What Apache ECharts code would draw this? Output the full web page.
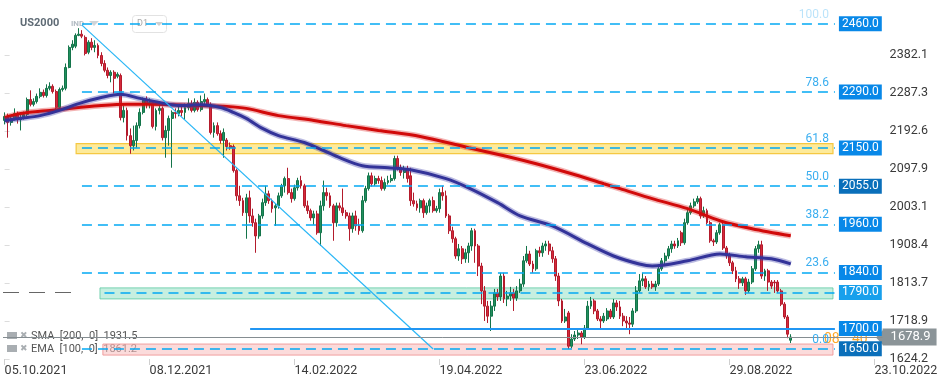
<!DOCTYPE html>
<html><head><meta charset="utf-8">
<script src="https://cdn.jsdelivr.net/npm/echarts@6/dist/echarts.min.js"></script>
<style>html,body{margin:0;padding:0;background:#fff;overflow:hidden}#c{width:949px;height:384px}</style>
</head><body><div id="c"></div>
<script>
// ---------- DATA ----------
const dateTicks = ['05.10.2021','08.12.2021','14.02.2022','19.04.2022','23.06.2022','29.08.2022','23.10.2022'];
const barsPerTick = 45;
const totalSlots = 273;
const yTicks = [1624.2, 1718.9, 1813.7, 1908.4, 2003.1, 2097.9, 2192.6, 2287.3, 2382.1];
const yMin = 1624.2, yMax = 2519.2;

// [open, close, low, high]
const candles = [
[2219,2229,2209,2239],[2229,2214,2176,2236],[2214,2224,2206,2231],[2224,2236,2219,2249],[2236,2221,2211,2241],
[2221,2226,2194,2234],[2226,2234,2221,2241],[2234,2271,2229,2276],[2271,2259,2254,2294],[2259,2266,2254,2274],
[2266,2279,2261,2286],[2279,2289,2274,2299],[2289,2281,2276,2296],[2281,2299,2276,2309],[2299,2304,2294,2314],
[2304,2291,2286,2309],[2291,2251,2246,2296],[2251,2296,2249,2301],[2296,2299,2291,2306],[2299,2351,2294,2361],
[2351,2401,2349,2406],[2401,2409,2394,2419],[2404,2431,2399,2436],[2431,2434,2429,2449],[2434,2429,2424,2444],
[2426,2386,2381,2431],[2389,2414,2384,2419],[2414,2401,2394,2424],[2401,2406,2389,2419],[2406,2381,2374,2411],
[2381,2361,2354,2389],[2361,2344,2339,2369],[2344,2331,2324,2351],[2331,2339,2314,2344],[2339,2324,2286,2344],
[2329,2334,2324,2339],[2331,2226,2219,2336],[2226,2244,2214,2256],[2244,2181,2169,2251],[2181,2156,2136,2199],
[2156,2169,2144,2206],[2169,2206,2151,2214],[2206,2239,2199,2249],[2239,2269,2234,2276],[2269,2259,2249,2279],
[2259,2264,2249,2274],[2264,2204,2199,2269],[2204,2244,2194,2249],[2244,2249,2234,2259],[2249,2176,2169,2254],
[2176,2194,2126,2206],[2194,2224,2156,2231],[2224,2239,2101,2244],[2239,2236,2224,2249],[2236,2244,2229,2256],
[2244,2239,2229,2254],[2239,2251,2221,2261],[2251,2261,2244,2274],[2261,2244,2239,2269],[2244,2264,2239,2274],
[2264,2246,2241,2269],[2246,2266,2241,2281],[2266,2271,2259,2286],[2271,2259,2254,2276],[2259,2189,2184,2264],
[2189,2206,2176,2214],[2206,2186,2181,2214],[2186,2169,2161,2194],[2169,2189,2126,2199],[2170,2154,2144,2175],
[2156,2151,2146,2164],[2154,2094,2089,2159],[2094,2031,2019,2099],[2031,2019,2006,2056],[2019,1989,1981,2026],
[1989,2026,1924,2036],[2026,1981,1964,2044],[1981,1964,1954,1999],[1964,1931,1889,1974],[1931,1981,1924,1986],
[1981,2014,1974,2024],[2014,2036,2006,2056],[2036,2019,2011,2044],[2019,1999,1989,2024],[2001,2006,1956,2011],
[2006,2031,1999,2039],[2031,2056,2026,2061],[2056,2074,2039,2079],[2074,2039,2034,2101],[2039,2024,2014,2049],
[2024,2051,2019,2059],[2051,2069,2044,2076],[2069,2056,2049,2081],[2056,2006,2001,2061],[2006,1994,1986,2019],
[1994,1976,1969,1999],[1976,1986,1959,1994],[1986,1939,1934,1994],[1939,2006,1906,2019],[2006,2039,1994,2069],
[2039,2031,2019,2051],[2031,2006,2001,2039],[2006,1964,1919,2011],[1964,2006,1954,2014],[2006,2001,1994,2014],
[2001,1989,1981,2049],[1989,1981,1974,1996],[1981,1949,1919,1989],[1949,1981,1939,1989],[1981,1956,1944,1994],
[1956,1944,1934,1974],[1944,2019,1939,2031],[2019,2049,2014,2056],[2049,2081,2044,2089],[2081,2061,2054,2089],
[2061,2074,2056,2081],[2074,2069,2061,2081],[2069,2049,2044,2079],[2049,2064,2044,2074],[2064,2069,2059,2081],
[2069,2074,2064,2084],[2074,2124,2069,2131],[2124,2101,2094,2131],[2101,2089,2081,2109],[2089,2099,2074,2106],
[2099,2074,2064,2106],[2081,2019,2006,2101],[2019,2011,2004,2039],[2011,2001,1994,2019],[2001,2019,1989,2024],
[2019,1989,1976,2024],[1989,2006,1984,2014],[2006,2019,1989,2024],[2019,1994,1989,2029],[1994,1999,1989,2006],
[1999,2039,1989,2049],[2039,2031,2019,2056],[2031,1981,1976,2044],[1981,1944,1936,1986],[1944,1924,1914,1954],
[1924,1881,1874,1929],[1881,1899,1869,1911],[1899,1874,1861,1906],[1874,1889,1864,1899],[1889,1906,1864,1914],
[1906,1944,1894,1951],[1944,1906,1864,1949],[1906,1856,1831,1911],[1856,1794,1761,1864],[1794,1756,1719,1806],
[1756,1731,1714,1769],[1731,1756,1694,1769],[1756,1789,1744,1799],[1789,1779,1769,1799],[1779,1831,1769,1839],
[1831,1774,1764,1839],[1774,1781,1756,1794],[1781,1789,1769,1804],[1789,1776,1744,1799],[1776,1794,1769,1806],
[1794,1811,1789,1824],[1811,1869,1804,1881],[1869,1886,1864,1906],[1886,1861,1856,1894],[1861,1849,1839,1869],
[1849,1894,1844,1899],[1894,1889,1879,1904],[1889,1906,1879,1914],[1906,1911,1894,1919],[1911,1894,1884,1919],
[1894,1874,1864,1904],[1874,1831,1819,1881],[1831,1769,1756,1839],[1769,1719,1714,1774],[1719,1729,1714,1749],
[1739,1656,1649,1744],[1656,1674,1651,1686],[1674,1684,1669,1694],[1684,1689,1674,1699],[1689,1679,1661,1694],
[1679,1701,1674,1709],[1701,1756,1699,1769],[1756,1769,1749,1779],[1769,1744,1736,1774],[1744,1724,1719,1749],
[1724,1719,1701,1731],[1719,1731,1714,1739],[1724,1744,1719,1751],[1744,1729,1724,1749],[1729,1764,1724,1774],
[1764,1754,1744,1771],[1754,1731,1724,1769],[1731,1719,1706,1739],[1719,1714,1699,1731],[1714,1711,1686,1729],
[1711,1744,1704,1751],[1744,1794,1739,1806],[1794,1819,1789,1836],[1819,1824,1806,1839],[1824,1804,1799,1831],
[1804,1811,1794,1819],[1811,1804,1799,1819],[1804,1811,1794,1819],[1811,1849,1806,1856],[1849,1869,1844,1876],
[1869,1881,1859,1889],[1881,1899,1874,1906],[1899,1911,1889,1919],[1911,1906,1899,1919],[1906,1919,1901,1926],
[1939,1914,1906,1944],[1914,1964,1909,1974],[1964,1989,1959,1999],[1989,2006,1984,2014],[2006,2016,2001,2024],
[2016,2024,2011,2031],[2024,1981,1974,2029],[1981,1994,1976,2004],[1994,1964,1959,1999],[1964,1919,1914,1969],
[1919,1916,1906,1924],[1916,1939,1911,1946],[1939,1959,1934,1964],[1959,1901,1896,1964],[1901,1881,1874,1906],
[1881,1864,1856,1889],[1864,1844,1836,1869],[1844,1824,1816,1854],[1824,1814,1799,1831],[1814,1824,1806,1829],
[1824,1794,1784,1829],[1794,1816,1789,1824],[1816,1849,1811,1856],[1849,1899,1844,1906],[1899,1909,1889,1919],
[1909,1831,1824,1919],[1831,1844,1819,1849],[1844,1816,1794,1849],[1816,1806,1799,1821],[1816,1814,1789,1821],
[1816,1794,1789,1821],[1794,1761,1756,1799],[1761,1729,1724,1766],[1729,1686,1676,1734],[1671,1678.9,1664,1686]
];

// SMA 200 and EMA 100: [bar index, value]
const smaPoints = [[0,2226],[5,2236],[14,2244],[23,2251],[30,2256],[38,2259],[45,2259],[61,2256],[69,2254],[75,2249],
[85,2231],[96,2219],[106,2206],[116,2194],[129,2179],[144,2151],[155,2131],[165,2111],[176,2086],[186,2061],
[191,2049],[201,2024],[212,1999],[222,1969],[232,1949],[244,1931.5]];
const emaPoints = [[0,2219],[5,2224],[11,2231],[17,2244],[23,2261],[30,2276],[36,2284],[42,2274],[48,2264],[54,2256],
[61,2258],[67,2251],[71,2239],[75,2224],[80,2199],[85,2181],[93,2164],[99,2144],[104,2126],[111,2106],
[119,2101],[126,2096],[137,2074],[144,2051],[153,2014],[160,1981],[170,1956],[181,1911],[189,1881],[197,1861],
[201,1856],[212,1869],[222,1886],[230,1879],[238,1874],[244,1861.2]];
const smaLast = 1931.5, emaLast = 1861.2;

// Fibonacci levels
const fibLevels = [2460, 2290, 2150, 2055, 1960, 1840, 1650];
const fibRatios = ['100.0','78.6','61.8','50.0','38.2','23.6','0.0'];
// Other horizontal levels
const zoneLevel = 1790;
const supportLevel = 1700;
const lastPrice = 1678.9;
// Zones [low, high]
const zones = [[2136, 2161], [1774, 1801.5], [1634, 1661.5]];
const zoneStartBars = [22.2, 29.6, 30.5];
// line extents (bar index)
const fibStartBar = 24, levelEndBar = 257.7, zoneEndBar = 257.1, zoneLineStartBar = 31, supportStartBar = 76.2;
const leftDashEndBar = 23;
// trend line [bar, value]
const trendLine = [[24.0, 2456.5], [133.0, 1649]];

// ---------- CHART ----------
const slots = [];
for (let i = 0; i < totalSlots; i++) slots.push(String(i));

const tagBlue = '#0888e8', tagDark = '#0a6fba', tagLight = '#18a0ec';
const fibBlue = '#03a9f4';
const tagStyle = (v, bg) => ({
  show: true, position: 'end', formatter: v.toFixed(1), color: '#fff', backgroundColor: bg,
  padding: [2, 3, 1, 3], fontSize: 12, lineHeight: 12, fontFamily: 'Roboto', distance: 4
});

const ML = [];
function hline(x1, x2, v, lineStyle, label) {
  ML.push([{ coord: [x1, v], lineStyle: lineStyle, label: label || { show: false } }, { coord: [x2, v] }]);
}
const dash = { color: fibBlue, width: 1.5, type: [10, 6] };
fibLevels.forEach((lv, k) => {
  const bg = (lv === 2055 || lv === 1650) ? tagDark : tagBlue;
  hline(fibStartBar, levelEndBar, lv, dash, tagStyle(lv, bg));
  hline(fibStartBar, levelEndBar, lv, { opacity: 0, width: 0 }, {
    show: true, position: 'insideEndTop', formatter: fibRatios[k], color: '#3aaef0',
    fontSize: 12, fontFamily: 'Roboto', distance: [6, 3], opacity: lv === 2460 ? 0.35 : 1
  });
});
hline(zoneLineStartBar, levelEndBar, zoneLevel, dash, tagStyle(zoneLevel, tagLight));
hline(-0.5, leftDashEndBar, zoneLevel, { color: '#666', width: 1.2, type: [16, 10] });
hline(supportStartBar, levelEndBar, supportLevel, { color: '#2196f3', width: 2, type: 'solid' }, tagStyle(supportLevel, tagBlue));
hline(-0.5, totalSlots - 0.5, lastPrice, { color: '#858d91', width: 1, type: 'solid' }, {
  show: true, position: 'end', formatter: lastPrice.toFixed(1), color: '#fff', backgroundColor: '#8b9498',
  padding: [2, 6, 2, 8], fontSize: 13, lineHeight: 13, fontFamily: 'Roboto', distance: 0
});

const zoneStyles = [
  { color: 'rgba(252,222,100,0.65)', borderColor: '#f5c842', borderWidth: 1.2 },
  { color: 'rgba(160,228,203,0.6)', borderColor: 'rgba(90,200,160,0.8)', borderWidth: 1 },
  { color: 'rgba(248,190,190,0.55)', borderColor: 'rgba(240,150,150,0.9)', borderWidth: 1 }
];
const MA = zones.map((z, k) => [
  { coord: [zoneStartBars[k], z[1]], itemStyle: zoneStyles[k] },
  { coord: [zoneEndBar, z[0]] }
]);

const axisFont = 'Roboto, sans-serif';

const option = {
  animation: false,
  textStyle: { fontFamily: 'Roboto' },
  grid: { left: 3, top: 0, width: 879.6, height: 359, containLabel: false },
  xAxis: [
    {
      type: 'category', data: slots, boundaryGap: true,
      axisLine: { show: false },
      axisTick: { show: true, alignWithLabel: true, interval: barsPerTick - 1, length: 6, lineStyle: { color: '#cfcfcf' } },
      axisLabel: {
        interval: barsPerTick - 1, align: 'left', margin: 5, color: '#3a3a3a', fontSize: 12.5, fontFamily: axisFont,
        formatter: (v, i) => (i % barsPerTick === 0 ? (dateTicks[i / barsPerTick] || '') : '')
      },
      splitLine: { show: false }
    },
    { type: 'value', min: -0.5, max: totalSlots - 0.5, show: false }
  ],
  yAxis: {
    type: 'value', position: 'right', min: yMin, max: yMax,
    splitLine: { show: false }, axisLine: { show: false },
    axisTick: { show: true, length: 5, lineStyle: { color: '#dcdcdc' }, customValues: yTicks },
    axisLabel: { customValues: yTicks, formatter: v => v.toFixed(1), margin: 7, color: '#3a3a3a', fontSize: 12.5, fontFamily: axisFont }
  },
  series: [
    {
      type: 'candlestick', xAxisIndex: 0, data: candles, barWidth: 2.4, z: 2,
      itemStyle: { color: '#20905e', color0: '#d62a3b', borderColor: '#14744a', borderColor0: '#b31b2c', borderWidth: 1 },
      emphasis: { disabled: true }, silent: true
    },
    {
      type: 'line', xAxisIndex: 1, data: smaPoints, smooth: 0.3, symbol: 'none', z: 4, silent: true,
      lineStyle: { color: 'rgba(220,40,40,0.35)', width: 6 }
    },
    {
      type: 'line', xAxisIndex: 1, data: smaPoints, smooth: 0.3, symbol: 'none', z: 4, silent: true,
      lineStyle: { color: '#d10a0a', width: 3 }
    },
    {
      type: 'line', xAxisIndex: 1, data: emaPoints, smooth: 0.3, symbol: 'none', z: 4, silent: true,
      lineStyle: { color: 'rgba(60,60,170,0.35)', width: 6 }
    },
    {
      type: 'line', xAxisIndex: 1, data: emaPoints, smooth: 0.3, symbol: 'none', z: 4, silent: true,
      lineStyle: { color: '#333399', width: 3 }
    },
    {
      type: 'line', xAxisIndex: 1, data: trendLine, symbol: 'none', z: 4, silent: true,
      lineStyle: { color: '#29b6f6', width: 1.2 }
    },
    {
      type: 'line', xAxisIndex: 1, data: [], symbol: 'none', z: 3, silent: true,
      markLine: { silent: true, symbol: ['none', 'none'], animation: false, emphasis: { disabled: true }, data: ML }
    },
    {
      type: 'line', xAxisIndex: 1, data: [], symbol: 'none', z: 5, silent: true,
      markArea: { silent: true, animation: false, emphasis: { disabled: true }, data: MA }
    }
  ],
  graphic: [
    { type: 'text', left: 20, top: 18, style: { text: 'US2000', fill: '#5f6b75', font: 'bold 11px Roboto' } },
    { type: 'text', left: 71, top: 20, style: { text: 'IND', fill: '#b3bcc4', font: 'bold 8px Roboto' } },
    { type: 'polygon', shape: { points: [[89, 21], [99, 21], [94, 26]] }, style: { fill: '#cfd4d8' } },
    { type: 'rect', shape: { x: 132.5, y: 15.5, width: 34, height: 17, r: 3 }, style: { fill: 'none', stroke: '#e2e2e2', lineWidth: 1 } },
    { type: 'text', left: 137, top: 19, style: { text: 'D1', fill: '#a8a8a8', font: '9px Roboto' } },
    { type: 'polygon', shape: { points: [[155, 22], [163, 22], [159, 26]] }, style: { fill: '#cfcfcf' } },
    { type: 'rect', shape: { x: 7, y: 332, width: 10, height: 7 }, style: { fill: '#a9aeb2' } },
    { type: 'text', left: 20, top: 331, style: { text: '✖', fill: '#a9aeb2', font: '9px DejaVu Sans' } },
    { type: 'text', left: 31, top: 331, style: { text: 'SMA  [200,  0]  ' + smaLast.toFixed(1), fill: '#555', font: '11px Roboto' } },
    { type: 'rect', shape: { x: 7, y: 345, width: 10, height: 7 }, style: { fill: '#a9aeb2' } },
    { type: 'text', left: 20, top: 344, style: { text: '✖', fill: '#a9aeb2', font: '9px DejaVu Sans' } },
    { type: 'text', left: 31, top: 344, style: { text: 'EMA  [100,  0]  ' + emaLast.toFixed(1), fill: '#555', font: '11px Roboto' } },
    { type: 'text', left: 824, top: 332, style: { text: '08', fill: '#ffa726', font: '14px Roboto' } },
    { type: 'text', left: 852, top: 332, style: { text: '40', fill: '#ffa726', font: '14px Roboto' } },
    { type: 'polygon', shape: { points: [[876, 337.5], [883, 330], [883, 345]] }, style: { fill: '#8b9498' } }
  ]
};

const chart = echarts.init(document.getElementById('c'), null, { renderer: 'canvas' });
chart.setOption(option);
</script>
</body></html>
